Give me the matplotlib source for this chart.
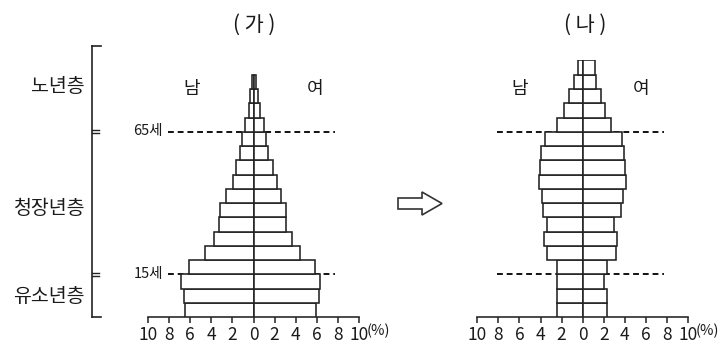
import matplotlib
matplotlib.use('Agg')
import matplotlib.pyplot as plt
from matplotlib.patches import Polygon

plt.rcParams['font.family'] = ['Noto Sans CJK KR', 'DejaVu Sans']

# 연령대 (5세 단위, 아래에서 위로)
age_groups = ['0-4', '5-9', '10-14', '15-19', '20-24', '25-29', '30-34', '35-39',
              '40-44', '45-49', '50-54', '55-59', '60-64', '65-69', '70-74',
              '75-79', '80-84', '85+']

# (가) 인구 구성비 (%)
ga_male = [6.5, 6.6, 6.85, 6.1, 4.6, 3.7, 3.3, 3.2, 2.6, 1.95, 1.7, 1.25, 1.05,
           0.78, 0.45, 0.3, 0.18]
ga_female = [5.9, 6.2, 6.3, 5.8, 4.4, 3.65, 3.05, 3.1, 2.6, 2.2, 1.85, 1.35, 1.15,
             0.95, 0.6, 0.4, 0.23]

# (나) 인구 구성비 (%)
na_male = [2.45, 2.4, 2.4, 2.45, 3.35, 3.65, 3.35, 3.75, 3.85, 4.15, 4.05, 3.95,
           3.6, 2.45, 1.8, 1.25, 0.85, 0.45]
na_female = [2.3, 2.3, 2.05, 2.3, 3.15, 3.3, 2.95, 3.6, 3.85, 4.1, 4.0, 3.9,
             3.7, 2.7, 2.1, 1.7, 1.25, 1.2]

x_ticks = [-10, -8, -6, -4, -2, 0, 2, 4, 6, 8, 10]
tick_labels = ['10', '8', '6', '4', '2', '0', '2', '4', '6', '8', '10']
age_bounds = [3, 13]          # 15세, 65세 경계 (막대 index)
group_names = ['노년층', '청장년층', '유소년층']

W, H = 722, 344
EDGE = '#222222'
TXT = '#1a1a1a'
NUM_FONT = ['Liberation Sans Narrow', 'Noto Sans CJK KR', 'DejaVu Sans']

fig = plt.figure(figsize=(W / 100, H / 100), dpi=100)

# pixel overlay for labels, bracket and arrow
ov = fig.add_axes([0, 0, 1, 1])
ov.set_xlim(0, W)
ov.set_ylim(H, 0)
ov.axis('off')

BAR_H = 14.27
AXIS_Y = 317.3
N_ROWS = 18


def make_axes(left, right):
    top = AXIS_Y - N_ROWS * BAR_H
    ax = fig.add_axes([left / W, 1 - AXIS_Y / H, (right - left) / W, (AXIS_Y - top) / H])
    ax.set_facecolor('none')
    return ax


def draw_pyramid(ax, male, female):
    rows = range(len(male))
    ax.hlines(age_bounds, -8.1, 7.7, colors='#111111', linestyles=(0, (3, 2)),
              lw=1.4, zorder=1)
    ax.barh(rows, [-m for m in male], height=1, align='edge', color='white',
            edgecolor=EDGE, lw=1.15, zorder=3)
    ax.barh(rows, female, height=1, align='edge', color='white',
            edgecolor=EDGE, lw=1.15, zorder=3)
    ax.set_xlim(-10, 10)
    ax.set_ylim(0, N_ROWS)
    ax.set_yticks([])
    ax.set_xticks(x_ticks)
    ax.set_xticklabels(tick_labels, family=NUM_FONT, fontsize=12.5, color=TXT)
    ax.tick_params(axis='x', direction='out', length=4, width=1.1, color=EDGE, pad=2)
    for side in ['top', 'left', 'right']:
        ax.spines[side].set_visible(False)
    ax.spines['bottom'].set_color(EDGE)
    ax.spines['bottom'].set_linewidth(1.15)


ax1 = make_axes(148, 359)
draw_pyramid(ax1, ga_male, ga_female)
ax2 = make_axes(477.3, 688)
draw_pyramid(ax2, na_male, na_female)

# titles and sex labels
ov.text(254, 25, '( 가 )', ha='center', va='center', fontsize=15, color=TXT)
ov.text(585, 25, '( 나 )', ha='center', va='center', fontsize=15, color=TXT)
for x, s in [(192, '남'), (315, '여'), (520, '남'), (641, '여')]:
    ov.text(x, 89, s, ha='center', va='center', fontsize=13, color=TXT)

# (%) units
for x in [367, 696]:
    ov.text(x, 331, '(%)', ha='left', va='center', family=NUM_FONT, fontsize=10.5,
            color=TXT)

# 65세 / 15세
ov.text(163, 131, '65세', ha='right', va='center', family=NUM_FONT, fontsize=10.5,
        color=TXT)
ov.text(163, 274, '15세', ha='right', va='center', family=NUM_FONT, fontsize=10.5,
        color=TXT)

# bracket on the left
bx = 92
ov.plot([bx, bx], [45.7, 316.7], color=EDGE, lw=1.2)
ov.plot([bx, bx + 9], [45.7, 45.7], color=EDGE, lw=1.2)
ov.plot([bx, bx + 9], [316.7, 316.7], color=EDGE, lw=1.2)
for yb in [131.5, 274]:
    ov.plot([bx, bx + 7], [yb - 1.5, yb - 1.5], color=EDGE, lw=1)
    ov.plot([bx, bx + 7], [yb + 1.5, yb + 1.5], color=EDGE, lw=1)

for y, s in zip([87, 208, 297], group_names):
    ov.text(85, y, s, ha='right', va='center', fontsize=14, color=TXT)

# hollow arrow
arrow = Polygon([(398, 198), (422, 198), (422, 192), (442, 203.5), (422, 215),
                 (422, 209), (398, 209)], closed=True, facecolor='white',
                edgecolor='#333333', lw=1.2)
ov.add_patch(arrow)

fig.savefig('out.png', dpi=100)
